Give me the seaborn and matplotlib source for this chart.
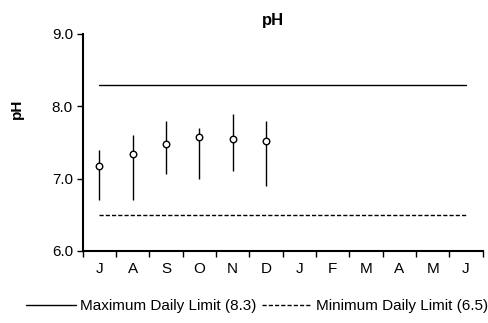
import numpy as np
import pandas as pd
import seaborn as sns
import matplotlib.pyplot as plt
from matplotlib.lines import Line2D

# monthly pH data (July -> June)
months = ["J", "A", "S", "O", "N", "D", "J", "F", "M", "A", "M", "J"]
ph_mean = [7.18, 7.34, 7.48, 7.58, 7.55, 7.52]
ph_max = [7.40, 7.60, 7.80, 7.70, 7.89, 7.80]
ph_min = [6.70, 6.70, 7.06, 7.00, 7.10, 6.90]
max_limit = 8.3
min_limit = 6.5

sns.set_style("ticks")
plt.rcParams["font.family"] = ["Liberation Sans", "DejaVu Sans"]
plt.rcParams["text.color"] = "black"
plt.rcParams["xtick.color"] = "black"
plt.rcParams["ytick.color"] = "black"
plt.rcParams["axes.labelcolor"] = "black"

df = pd.DataFrame({"pos": np.arange(len(ph_mean)), "mean": ph_mean,
                   "hi": ph_max, "lo": ph_min})
lim = pd.DataFrame({"pos": [0, len(months) - 1]})
lim["max"] = max_limit
lim["min"] = min_limit

fig = plt.figure(figsize=(4.89, 3.23), dpi=100)
ax = fig.add_axes([0.169, 0.223, 0.818, 0.672])

dash = (0, (3, 1.5))
# whiskers (min/max range)
ax.vlines(df["pos"], df["lo"], df["hi"], color="black", lw=1)
sns.scatterplot(data=df, x="pos", y="mean", ax=ax, marker="o", s=22,
                facecolor="white", edgecolor="black", linewidth=1, zorder=3)
sns.lineplot(data=lim, x="pos", y="max", ax=ax, color="black", lw=1)
sns.lineplot(data=lim, x="pos", y="min", ax=ax, color="black", lw=1,
             linestyle=dash)

ax.set_xlim(-0.5, len(months) - 0.5)
ax.set_ylim(6.0, 9.0)
ax.set_yticks([6.0, 7.0, 8.0, 9.0])
ax.set_yticklabels(["6.0", "7.0", "8.0", "9.0"], fontsize=11)
# labels at month centres, tick marks at boundaries
ax.set_xticks(np.arange(len(months)))
ax.set_xticklabels(months, fontsize=11)
ax.tick_params(axis="x", which="major", length=0, pad=8)
ax.set_xticks(np.arange(len(months) + 1) - 0.5, minor=True)
ax.tick_params(axis="x", which="minor", length=4, width=1, direction="out")
ax.tick_params(axis="y", length=4, width=1, pad=3)

for s in ["top", "right"]:
    ax.spines[s].set_visible(False)
for s in ["left", "bottom"]:
    ax.spines[s].set_linewidth(1.5)
    ax.spines[s].set_color("black")

ax.set_xlabel("")
ax.set_ylabel("pH", fontsize=11, fontweight="bold", va="center")
ax.yaxis.set_label_coords(-0.164, 0.654)
ax.text(0.477, 1.06, "pH", transform=ax.transAxes, ha="center", va="center",
        fontsize=12, fontweight="bold")

handles = [Line2D([], [], color="black", lw=1),
           Line2D([], [], color="black", lw=1, linestyle=dash)]
fig.legend(handles, ["Maximum Daily Limit (8.3)", "Minimum Daily Limit (6.5)"],
           loc="center", bbox_to_anchor=(0.525, 0.052), ncol=2, frameon=False,
           fontsize=11, handlelength=3.3, handletextpad=0.25, columnspacing=0.35,
           borderpad=0, borderaxespad=0)

fig.savefig("out.png", dpi=100)
